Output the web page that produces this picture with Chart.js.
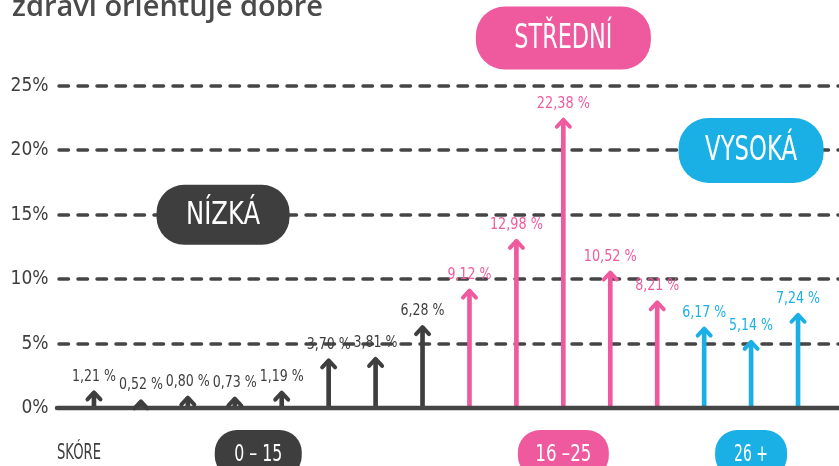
<!DOCTYPE html>
<html lang="cs">
<head>
<meta charset="utf-8">
<title>Skóre</title>
<script src="https://cdn.jsdelivr.net/npm/chart.js@4.4.0/dist/chart.umd.min.js"></script>
<style>
  html, body { margin: 0; padding: 0; background: #fff; overflow: hidden; }
  #wrap { position: relative; width: 839px; height: 466px; }
</style>
</head>
<body>
<div id="wrap"><canvas id="scoreChart" width="839" height="466"></canvas></div>
<script>
// score buckets (not shown on the axis), share of respondents in %
const scoreBuckets = ['0–1', '2–3', '4–5', '6–7', '8–9', '10–11', '12–13', '14–15',
                      '16–17', '18–19', '20–21', '22–23', '24–25', '26–27', '28–29', '30–31'];
const shares = [1.21, 0.52, 0.80, 0.73, 1.19, 3.70, 3.81, 6.28,
                9.12, 12.98, 22.38, 10.52, 8.21, 6.17, 5.14, 7.24];
const yTicks = [0, 5, 10, 15, 20, 25];

// groups of buckets
const groupNames = ['NÍZKÁ', 'STŘEDNÍ', 'VYSOKÁ'];
const groupRanges = ['0 – 15', '16 –25', '26 +'];
const groupFirst = [0, 8, 13];
const groupLast = [7, 12, 15];

const title = 'zdraví orientuje dobře';
const axisName = 'SKÓRE';

const groupColors = ['#3e3e3e', '#ef5a9f', '#1ab0e6'];
const INK = '#454545';
const NARROW = '"DejaVu Sans Condensed", "Liberation Sans Narrow", Roboto, sans-serif';

function groupOf(i) {
    for (let g = 0; g < groupFirst.length; g++) {
        if (i >= groupFirst[g] && i <= groupLast[g]) return g;
    }
    return 0;
}
const barColors = shares.map((v, i) => groupColors[groupOf(i)]);

function fmt(v) {
    return v.toFixed(2).replace('.', ',') + ' %';
}

function pill(ctx, cx, cy, w, h, color, text, size, maxW) {
    ctx.save();
    ctx.beginPath();
    ctx.roundRect(cx - w / 2, cy - h / 2, w, h, h * 0.46);
    ctx.fillStyle = color;
    ctx.fill();
    ctx.fillStyle = '#fff';
    ctx.font = size + 'px ' + NARROW;
    ctx.textAlign = 'center';
    ctx.textBaseline = 'middle';
    ctx.fillText(text, cx, cy + 1, maxW);
    ctx.restore();
}

const LINE_LEFT = 57;

const decorations = {
    id: 'decorations',
    beforeDatasetsDraw(chart) {
        const { ctx, scales: { y } } = chart;
        ctx.save();
        ctx.strokeStyle = INK;
        ctx.lineWidth = 3.5;
        ctx.lineCap = 'round';
        ctx.setLineDash([9.5, 9.5]);
        yTicks.forEach(v => {
            if (v === 0) return;
            const py = Math.round(y.getPixelForValue(v));
            ctx.beginPath();
            ctx.moveTo(LINE_LEFT + 2, py);
            ctx.lineTo(chart.width, py);
            ctx.stroke();
        });
        ctx.restore();
    },
    afterDatasetsDraw(chart) {
        const { ctx, scales: { x, y } } = chart;
        const meta = chart.getDatasetMeta(0);
        const base = y.getPixelForValue(0);

        // baseline
        ctx.save();
        ctx.strokeStyle = INK;
        ctx.lineWidth = 4.5;
        ctx.lineCap = 'round';
        ctx.beginPath();
        ctx.moveTo(LINE_LEFT, base);
        ctx.lineTo(chart.width, base);
        ctx.stroke();

        // arrow heads and value labels
        meta.data.forEach((bar, i) => {
            const color = barColors[i];
            ctx.strokeStyle = color;
            ctx.lineWidth = 4;
            ctx.lineJoin = 'round';
            ctx.beginPath();
            ctx.moveTo(bar.x - 6.5, bar.y + 7);
            ctx.lineTo(bar.x, bar.y);
            ctx.lineTo(bar.x + 6.5, bar.y + 7);
            ctx.stroke();

            const label = fmt(shares[i]);
            ctx.fillStyle = color;
            ctx.font = '16px ' + NARROW;
            ctx.textAlign = 'center';
            ctx.textBaseline = 'middle';
            ctx.fillText(label, bar.x, bar.y - 16, 44 + (label.length - 6) * 9);
        });

        // title (cut at the top)
        ctx.fillStyle = '#4a4a4a';
        ctx.font = '600 29px "Open Sans", sans-serif';
        ctx.textAlign = 'left';
        ctx.textBaseline = 'alphabetic';
        ctx.fillText(title, 12, 16);

        // axis name
        ctx.fillStyle = '#3e3e3e';
        ctx.font = '22px ' + NARROW;
        ctx.textBaseline = 'middle';
        ctx.fillText(axisName, LINE_LEFT, 453, 44);
        ctx.restore();

        const step = x.getPixelForValue(1) - x.getPixelForValue(0);
        const xAt = idx => x.getPixelForValue(0) + idx * step;

        // group names above the bars
        pill(ctx, xAt(2.75), y.getPixelForValue(15), 133, 60, groupColors[0], groupNames[0], 32, 74);
        pill(ctx, xAt(10), 38, 175, 63, groupColors[1], groupNames[1], 34, 98);
        pill(ctx, xAt(14), y.getPixelForValue(20), 145, 65, groupColors[2], groupNames[2], 34, 92);

        // score ranges under the axis
        const rangeWidths = [87, 91, 72];
        const rangeTextW = [48, 56, 34];
        groupRanges.forEach((r, g) => {
            const mid = (groupFirst[g] + groupLast[g]) / 2;
            pill(ctx, xAt(mid), 454, rangeWidths[g], 48, groupColors[g], r, 23, rangeTextW[g]);
        });
    }
};

const ctx = document.getElementById('scoreChart').getContext('2d');
const scoreChart = new Chart(ctx, {
    type: 'bar',
    data: {
        labels: scoreBuckets,
        datasets: [{
            data: shares,
            backgroundColor: barColors,
            borderWidth: 0,
            barThickness: 4
        }]
    },
    options: {
        responsive: false,
        animation: false,
        devicePixelRatio: 1,
        layout: {
            padding: { top: 86, right: 17.5, bottom: 58, left: 0 }
        },
        scales: {
            x: {
                display: false,
                grid: { display: false }
            },
            y: {
                min: 0,
                max: 25,
                afterFit: (scale) => { scale.width = 70.5; },
                afterBuildTicks: (scale) => { scale.ticks = yTicks.map(v => ({ value: v })); },
                grid: { display: false, drawTicks: false },
                border: { display: false },
                ticks: {
                    padding: 22,
                    color: '#3e3e3e',
                    font: { family: NARROW, size: 19 },
                    callback: (v) => v + '%'
                }
            }
        },
        plugins: {
            legend: { display: false },
            tooltip: { enabled: false }
        }
    },
    plugins: [decorations]
});
</script>
</body>
</html>
